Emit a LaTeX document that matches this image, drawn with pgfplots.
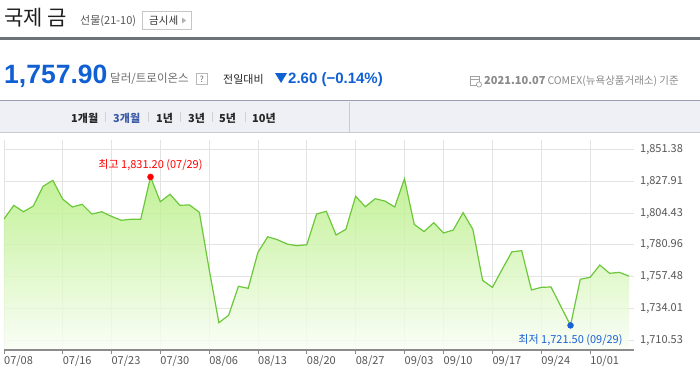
\documentclass[border=0pt]{standalone}
\usepackage{fontspec}
\usepackage{pgfplots}
\usepackage{pgfplotstable}
\pgfplotsset{compat=1.18}
\setmainfont{Noto Sans CJK KR}
\newfontfamily\arial{Liberation Sans}
\definecolor{hdrline}{HTML}{6E7378}
\definecolor{bandfill}{HTML}{EFF0F5}
\definecolor{bandtop}{HTML}{9A9EB0}
\definecolor{bandbot}{HTML}{CACBD0}
\definecolor{bigblue}{HTML}{1060D4}
\definecolor{tabblue}{HTML}{3A5AA8}
\definecolor{txtgray}{HTML}{555555}
\definecolor{ltgray}{HTML}{8A8A8A}
\definecolor{gridc}{HTML}{E3E3E3}
\definecolor{axisc}{HTML}{8C8C8C}
\definecolor{lineg}{HTML}{6CC83A}
\definecolor{filltop}{HTML}{B5EF80}
\definecolor{fillbot}{HTML}{FAFEF6}
\definecolor{minblue}{HTML}{1A62D6}
\newcommand\fs[1]{\fontsize{#1}{#1}\selectfont}

\pgfplotstableread{
x y
0 1800.1
1 1810.2
2 1805.5
3 1809.7
4 1824.3
5 1828.7
6 1814.9
7 1809.0
8 1811.0
9 1803.8
10 1805.5
11 1802.1
12 1799.2
13 1799.9
14 1799.9
15 1831.2
16 1812.9
17 1818.4
18 1810.3
19 1810.5
20 1805.1
21 1763.1
22 1723.5
23 1729.0
24 1750.4
25 1748.9
26 1775.5
27 1787.0
28 1784.8
29 1781.6
30 1780.4
31 1781.1
32 1803.8
33 1805.8
34 1788.3
35 1792.5
36 1816.9
37 1809.2
38 1815.1
39 1813.4
40 1809.0
41 1829.8
42 1796.2
43 1790.8
44 1797.4
45 1789.8
46 1792.0
47 1804.8
48 1792.5
49 1754.8
50 1749.6
51 1762.9
52 1775.9
53 1776.7
54 1747.7
55 1749.6
56 1749.9
57 1735.7
58 1721.5
59 1755.6
60 1757.0
61 1766.1
62 1760.0
63 1760.7
64 1757.9
}\golddata

\begin{document}
\begin{tikzpicture}
\fill[white] (0,0) rectangle (700pt,-380pt);
\begin{scope}[x=1pt,y=-1pt]
  % title row
  \node[anchor=base west, inner sep=0, font=\fs{21}, text=black!88] at (4,25) {국제 금};
  \node[anchor=base west, inner sep=0, font=\fs{11}, text=txtgray] at (80,24.5) {선물(21-10)};
  \draw[gray!45, fill=white] (142.5,11.5) rectangle (191.5,29.5);
  \node[anchor=base west, inner sep=0, font=\fs{10.5}, text=black!80] at (149,24.5) {금시세};
  \fill[gray!60] (182,17.5) -- (186,20.5) -- (182,23.5) -- cycle;
  \fill[hdrline] (0,37) rectangle (700,40);
  % price row
  \node[anchor=base west, inner sep=0, font=\arial\bfseries\fs{26.5}, text=bigblue] at (4,83) {1,757.90};
  \node[anchor=base west, inner sep=0, font=\fs{11.5}, text=gray!85!black] at (110,82.5) {달러/트로이온스};
  \draw[gray!55, fill=white] (196.5,73.5) rectangle (207.5,84.5);
  \node[inner sep=0, font=\fs{8.5}, text=gray!80!black] at (202,79.3) {?};
  \node[anchor=base west, inner sep=0, font=\fs{11}, text=black!85] at (223,83) {전일대비};
  \fill[bigblue] (275,73) -- (287,73) -- (281,83) -- cycle;
  \node[anchor=base west, inner sep=0, font=\arial\bfseries\fs{15}, text=bigblue] at (288,83) {2.60 (−0.14\%)};
  % date info
  \draw[ltgray!80, line width=0.8] (470.5,76.5) rectangle (479.5,85.5);
  \draw[ltgray!80, line width=0.8] (470.5,79) -- (479.5,79);
  \draw[ltgray!80, fill=white, line width=0.7] (479,84.5) circle (2.6);
  \node[anchor=base west, inner sep=0, font=\bfseries\fs{11}, text=ltgray] at (484,84) {2021.10.07};
  \node[anchor=base east, inner sep=0, font=\fs{10.5}, text=ltgray] at (679,84) {COMEX(뉴욕상품거래소) 기준};
  % tab band
  \fill[bandfill] (0,100.5) rectangle (700,132.5);
  \draw[bandtop, line width=1.3] (0,100.7) -- (700,100.7);
  \draw[bandbot, line width=1] (0,132.3) -- (700,132.3);
  \draw[bandbot, line width=1] (349,101.5) -- (349,132);
  \foreach \sx in {105,148,180,212,245} {\draw[gray!35, line width=0.8] (\sx,112) -- (\sx,122);}
  \node[anchor=base west, inner sep=0, font=\bfseries\fs{11}, text=black!85] at (71,122.5) {1개월};
  \node[anchor=base west, inner sep=0, font=\bfseries\fs{11}, text=tabblue] at (113,122.5) {3개월};
  \node[anchor=base west, inner sep=0, font=\bfseries\fs{11}, text=black!85] at (156,122.5) {1년};
  \node[anchor=base west, inner sep=0, font=\bfseries\fs{11}, text=black!85] at (188,122.5) {3년};
  \node[anchor=base west, inner sep=0, font=\bfseries\fs{11}, text=black!85] at (219,122.5) {5년};
  \node[anchor=base west, inner sep=0, font=\bfseries\fs{11}, text=black!85] at (252,122.5) {10년};
\end{scope}

\begin{axis}[
  at={(4pt,-350pt)}, anchor=south west,
  width=630pt, height=210pt, scale only axis,
  xmin=0, xmax=64.5, ymin=1703.32, ymax=1858.5,
  axis line style={draw=none},
  xtick={0,6,11,16,21,26,31,36,41,45,50,55,60},
  xticklabels={07/08,07/16,07/23,07/30,08/06,08/13,08/20,08/27,09/03,09/10,09/17,09/24,10/01},
  xtick pos=bottom, xtick align=outside,
  major tick length=4pt,
  xtick style={axisc, line width=0.9pt},
  xticklabel style={anchor=north west, inner sep=0pt, yshift=-2pt, font=\fs{11}, text=txtgray},
  ytick={1710.53,1734.01,1757.48,1780.96,1804.43,1827.91,1851.38},
  yticklabels={{1,710.53},{1,734.01},{1,757.48},{1,780.96},{1,804.43},{1,827.91},{1,851.38}},
  yticklabel pos=right,
  ytick style={draw=none},
  yticklabel style={anchor=west, inner sep=0pt, xshift=6pt, font=\fs{11}, text=txtgray},
  grid=major,
  major grid style={gridc, line width=0.9pt},
]
\addplot[draw=none, top color=filltop, bottom color=fillbot, fill opacity=0.82]
  table {\golddata} -- (axis cs:64,1703.32) -- (axis cs:0,1703.32) -- cycle;
\addplot[lineg, line width=1.2pt, no marks] table {\golddata};
\draw[axisc, line width=1.2pt] (rel axis cs:0,0) -- (rel axis cs:1,0);
\addplot[only marks, mark=*, mark size=3pt, red, mark options={draw=red, fill=red}] coordinates {(15,1831.2)};
\addplot[only marks, mark=*, mark size=3pt, minblue, mark options={draw=minblue, fill=minblue}] coordinates {(58,1721.5)};
\node[anchor=base, inner sep=0, font=\fs{11}, text=red] at ([yshift=8.7pt]axis cs:15,1831.2) {최고 1,831.20 (07/29)};
\node[anchor=base, inner sep=0, font=\fs{11}, text=minblue] at ([yshift=-18.1pt]axis cs:58,1721.5) {최저 1,721.50 (09/29)};
\end{axis}
\pgfresetboundingbox
\useasboundingbox (0,0) rectangle (700pt,-380pt);
\end{tikzpicture}
\end{document}
